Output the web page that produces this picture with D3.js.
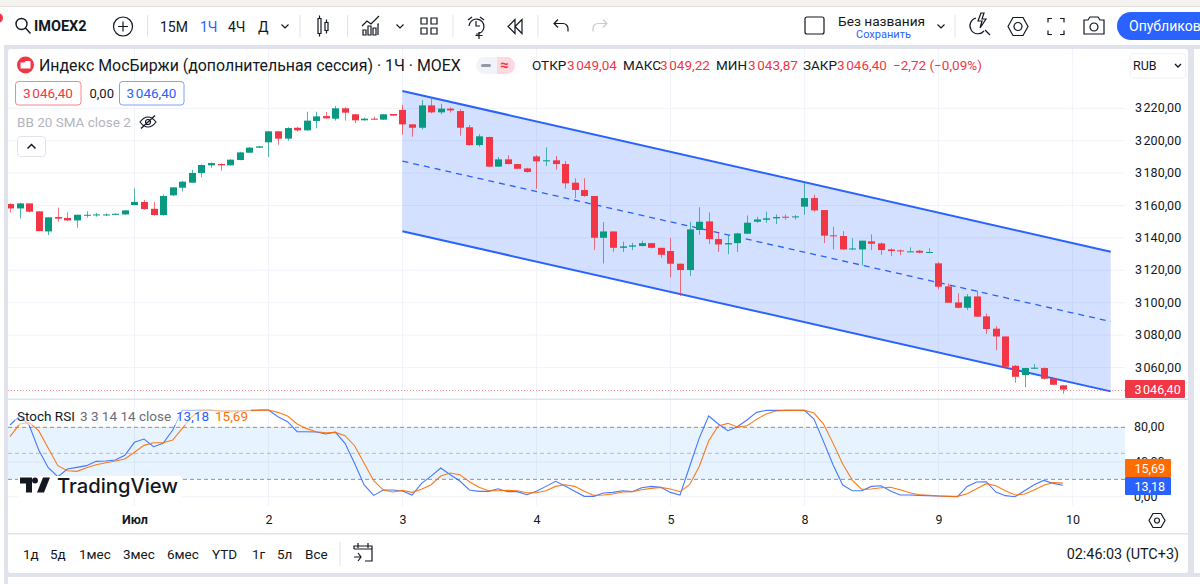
<!DOCTYPE html>
<html>
<head>
<meta charset="utf-8">
<script src="https://cdn.jsdelivr.net/npm/d3@7"></script>
<style>
  html, body { margin: 0; padding: 0; background: #fff; overflow: hidden; }
  svg { display: block; font-family: Roboto, "Noto Sans", sans-serif; }
</style>
</head>
<body>
<div id="chart"></div>
<script>
// Hourly candles, index 0 is the first visible bar
const opens = [3160.9,3158.2,3161.3,3156.4,3144.0,3152.9,3152.3,3150.8,3153.9,3154.1,3154.1,3154.5,3154.5,3160.3,3162.2,3158.0,3154.1,3166.3,3171.0,3174.1,3180.1,3184.8,3185.6,3184.8,3188.1,3192.6,3195.7,3199.0,3205.8,3201.3,3208.0,3206.4,3212.2,3215.2,3213.6,3220.0,3216.3,3212.6,3213.6,3213.0,3216.5,3219.0,3210.1,3208.0,3221.8,3217.5,3219.8,3218.3,3208.3,3197.3,3202.3,3184.0,3188.5,3185.6,3182.9,3190.3,3187.5,3187.9,3185.6,3174.1,3169.6,3165.9,3140.1,3144.0,3133.9,3134.6,3135.0,3136.8,3133.9,3131.9,3124.1,3120.2,3144.9,3150.2,3139.3,3136.0,3136.8,3142.6,3150.0,3151.2,3152.1,3153.1,3152.7,3159.3,3164.6,3157.2,3141.6,3141.2,3132.9,3132.9,3137.9,3136.6,3132.9,3132.3,3131.3,3132.1,3130.9,3124.3,3110.1,3100.2,3096.9,3103.9,3091.6,3084.0,3079.2,3061.1,3055.4,3059.3,3059.7,3053.3,3049.04];
const highs = [3161.3,3161.7,3161.3,3156.4,3152.7,3158.7,3155.8,3154.3,3156.4,3155.4,3155.2,3155.2,3157.2,3170.6,3163.4,3162.2,3166.9,3171.2,3175.3,3181.9,3185.4,3186.6,3186.0,3188.5,3193.2,3196.1,3196.7,3206.0,3205.8,3208.3,3208.7,3217.9,3217.9,3217.7,3221.4,3220.6,3216.5,3214.2,3214.8,3216.5,3216.5,3222.2,3210.1,3225.1,3226.2,3222.7,3220.6,3219.4,3209.7,3204.1,3202.5,3189.9,3191.0,3185.8,3183.3,3191.2,3195.9,3190.6,3187.5,3176.8,3176.8,3165.9,3149.8,3144.0,3137.7,3137.0,3138.3,3136.8,3133.9,3139.9,3124.1,3150.0,3158.9,3155.8,3143.4,3141.4,3143.2,3153.9,3153.1,3156.2,3154.5,3154.5,3154.1,3174.1,3166.7,3157.2,3146.9,3144.2,3139.9,3138.3,3142.2,3137.2,3133.5,3132.9,3134.2,3132.6,3133.6,3125.1,3112.0,3105.8,3105.4,3107.4,3093.4,3085.6,3079.2,3061.5,3059.7,3062.2,3060.1,3053.7,3049.22];
const lows = [3155.6,3152.1,3155.8,3144.2,3141.8,3150.0,3150.6,3146.3,3152.5,3153.1,3153.5,3154.1,3154.3,3160.1,3157.4,3153.9,3153.9,3165.9,3168.7,3173.9,3177.4,3183.3,3181.5,3184.6,3187.9,3192.4,3195.5,3190.1,3197.5,3200.0,3205.6,3206.2,3207.6,3213.6,3212.4,3212.4,3210.9,3212.4,3212.8,3212.8,3215.3,3203.7,3202.5,3207.0,3216.9,3216.3,3217.3,3203.1,3197.1,3196.3,3183.6,3183.8,3185.4,3182.5,3180.3,3170.4,3184.4,3182.1,3170.4,3164.6,3165.4,3132.5,3124.3,3131.5,3131.3,3132.5,3134.8,3133.5,3127.8,3115.6,3104.1,3116.5,3142.0,3136.2,3131.3,3130.0,3131.3,3142.4,3149.4,3149.4,3148.6,3151.2,3151.4,3154.3,3156.2,3136.8,3132.9,3132.5,3132.5,3123.0,3132.5,3129.6,3128.8,3129.4,3131.3,3130.5,3130.9,3108.3,3100.0,3096.5,3095.5,3091.2,3080.7,3070.8,3060.1,3050.6,3047.8,3059.3,3052.7,3049.2,3043.87];
const closes = [3158.2,3161.3,3156.2,3144.2,3152.7,3151.9,3150.8,3154.3,3154.3,3154.5,3154.5,3154.9,3157.0,3162.2,3157.8,3154.1,3165.9,3171.2,3174.7,3180.1,3185.0,3186.2,3184.8,3188.3,3192.8,3195.7,3196.5,3205.8,3201.3,3207.8,3206.4,3212.4,3215.0,3213.8,3220.0,3217.3,3212.6,3213.6,3213.0,3216.3,3215.5,3210.1,3208.0,3221.8,3217.5,3219.8,3218.7,3208.0,3197.3,3202.7,3184.0,3188.5,3185.6,3182.7,3180.7,3187.3,3187.9,3185.6,3173.7,3169.6,3165.9,3140.1,3144.0,3133.9,3134.8,3135.4,3136.8,3133.9,3129.6,3124.1,3120.2,3145.3,3150.0,3139.3,3136.0,3136.8,3142.8,3149.4,3151.4,3152.1,3152.9,3152.7,3153.3,3164.6,3157.0,3141.4,3141.2,3132.9,3133.5,3138.3,3136.4,3132.5,3131.9,3131.7,3131.7,3130.9,3131.3,3109.9,3100.0,3096.9,3103.9,3091.4,3083.8,3079.2,3060.5,3054.3,3059.7,3059.9,3053.1,3049.4,3046.40];

// Stoch RSI, same bars
const stochK = [82.7,93.1,82.7,53.8,33.5,23.1,31.9,33.8,35.8,40.8,41.2,42.3,47.7,62.7,66.5,57.7,61.5,76.9,99.6,99.6,100,99.6,98.8,98.8,98.8,99.6,100,100,92.3,86.5,75,75,74.6,72.3,74.6,61.5,38.5,13.5,1.5,7.7,7.7,6.5,1.9,15.4,23.8,33.1,25.4,18.1,7.7,6.2,6.2,9.2,5.8,5.8,2.3,6.2,11.9,17.7,12.3,6.2,0.4,0.4,4.2,5,6.9,5.8,10.4,11.9,10.8,5,1.9,34.6,67.3,93.1,83.8,76.2,80.8,88.5,97.3,99.6,99.6,99.6,99.6,99.6,89.6,63.5,36.5,13.5,6.9,6.9,11.9,12.7,6.5,1.9,1.9,1.5,1.2,0.8,0.4,0,11.9,16.9,17.3,5.4,1.2,0,6.9,13.8,18.8,15.4,13.18];
const stochD = [69.2,83.8,85.4,76.2,55.8,35.8,30,29.2,33.5,36.9,39.2,41.2,43.5,51.2,59.2,62.3,62.3,65.4,78.8,92.3,99.6,100,99.2,98.8,98.8,99.2,99.6,100,97.3,93.1,83.8,78.5,75,73.8,74.2,70.4,58.8,38.5,18.5,7.7,5.4,7.3,5,8.5,13.8,23.8,27.3,25.4,17.3,10.8,6.9,6.9,7.3,6.9,4.6,4.6,6.9,11.9,13.8,11.9,6.2,1.5,1.9,3.1,5.4,5.8,8.1,9.6,10.8,8.8,5.8,13.8,34.6,64.6,81.5,84.6,80.4,81.9,89.2,95.4,98.8,99.6,99.6,99.6,96.5,83.8,61.5,37.7,19.2,8.5,8.8,10.4,10.8,8.1,4.6,2.3,1.5,0.8,0.4,0.4,3.5,9.2,15,12.7,6.9,1.9,3.1,7.7,13.1,16.2,15.69];

// Parallel channel: [bar index, price] anchors
const channelBars = [41, 115];
const channelUpper = [3230.7, 3131.5];
const channelMiddle = [3187.4, 3088.4];
const channelLower = [3144.1, 3045.3];

const lastClose = 3046.40;
const priceTicks = [3220, 3200, 3180, 3160, 3140, 3120, 3100, 3080, 3060];
const stochTicks = [80, 40, 0];
const stochLevels = [80, 50, 20];
const dayBars = [13, 27, 41, 55, 69, 83, 97, 111];
const dayLabels = ["Июл", "2", "3", "4", "5", "8", "9", "10"];
const rangeLabels = ["1д", "5д", "1мес", "3мес", "6мес", "YTD", "1г", "5л", "Все"];
const rangeX = [23, 50, 79, 123, 167, 212, 252, 277, 305];

const RED = "#f23645", GREEN = "#089981", BLUE = "#2962ff", ORANGE = "#ff6d00", INK = "#131722";

const ru = d3.formatLocale({ decimal: ",", thousands: "\u202f", grouping: [3], currency: ["", ""] });
const fmt = ru.format(",.2f");

const svg = d3.select("#chart").append("svg").attr("width", 1200).attr("height", 584);

// Scales
const x = d3.scaleLinear().domain([0, 115]).range([10, 1110.7]);
const y = d3.scaleLinear().domain([3040.6, 3256.6]).range([399, 49]);
const yStoch = d3.scaleLinear().domain([0, 100]).range([496.7, 410]);

const text = (g, s, px, py, size, fill, extra = {}) => {
  const t = g.append("text").attr("x", px).attr("y", py).attr("font-size", size).attr("fill", fill)
    .attr("dominant-baseline", "central").text(s);
  Object.entries(extra).forEach(([k, v]) => t.attr(k, v));
  return t;
};
const icon = (g, d, tx, ty, stroke = INK, w = 1.2) =>
  g.append("path").attr("d", d).attr("transform", `translate(${tx},${ty})`)
    .attr("fill", "none").attr("stroke", stroke).attr("stroke-width", w);

// Page frame
svg.append("rect").attr("width", 1200).attr("height", 584).attr("fill", "#fff");
svg.append("rect").attr("x", 4).attr("y", 45).attr("width", 1196).attr("height", 539).attr("fill", "#e0e3eb");
svg.append("rect").attr("x", 0).attr("y", 0).attr("width", 1200).attr("height", 7).attr("fill", "#f5f3f0");
svg.append("rect").attr("x", 0).attr("y", 6).attr("width", 1200).attr("height", 1).attr("fill", "#e4dfda");
svg.append("rect").attr("x", 0).attr("y", 7).attr("width", 1200).attr("height", 38).attr("fill", "#fff");
svg.append("circle").attr("cx", -2).attr("cy", 18).attr("r", 5).attr("fill", RED);
svg.append("rect").attr("x", 8).attr("y", 49).attr("width", 1180).attr("height", 524).attr("rx", 3).attr("fill", "#fff");
svg.append("rect").attr("x", 1194).attr("y", 49).attr("width", 6).attr("height", 524).attr("fill", "#fff");
svg.append("rect").attr("x", 8).attr("y", 577).attr("width", 1192).attr("height", 7).attr("fill", "#fff");

// Grid
const grid = svg.append("g").attr("stroke", "#f0f3fa").attr("stroke-width", 1);
grid.selectAll(".v").data(dayBars).enter().append("line")
  .attr("x1", (d) => x(d)).attr("x2", (d) => x(d)).attr("y1", 49).attr("y2", 506);
grid.selectAll(".h").data(priceTicks).enter().append("line")
  .attr("x1", 8).attr("x2", 1125).attr("y1", (d) => y(d)).attr("y2", (d) => y(d));
grid.selectAll(".s").data(stochTicks).enter().append("line")
  .attr("x1", 8).attr("x2", 1125).attr("y1", (d) => yStoch(d)).attr("y2", (d) => yStoch(d));

// Clip for the marks
svg.append("clipPath").attr("id", "plot").append("rect").attr("x", 8).attr("y", 49).attr("width", 1117).attr("height", 457);
const plot = svg.append("g").attr("clip-path", "url(#plot)");

// Channel
const channelLine = (vals) => d3.line().x((d, i) => x(channelBars[i])).y((d) => y(d))(vals);
plot.append("path")
  .attr("d", d3.area().x((d, i) => x(channelBars[i])).y0((d, i) => y(channelLower[i])).y1((d) => y(d))(channelUpper))
  .attr("fill", BLUE).attr("fill-opacity", 0.2);
plot.append("path").attr("d", channelLine(channelMiddle)).attr("fill", "none")
  .attr("stroke", BLUE).attr("stroke-width", 1.3).attr("stroke-dasharray", "6,5");
[channelUpper, channelLower].forEach((vals) => {
  plot.append("path").attr("d", channelLine(vals)).attr("fill", "none").attr("stroke", BLUE).attr("stroke-width", 2);
});

// Candles
const candles = plot.selectAll(".candle").data(d3.range(opens.length)).enter().append("g").attr("class", "candle");
const colorOf = (i) => (closes[i] >= opens[i] ? GREEN : RED);
candles.append("line")
  .attr("x1", (i) => Math.round(x(i)) + 0.5).attr("x2", (i) => Math.round(x(i)) + 0.5)
  .attr("y1", (i) => y(highs[i])).attr("y2", (i) => y(lows[i]))
  .attr("stroke", colorOf).attr("stroke-opacity", 0.7);
candles.append("rect")
  .attr("x", (i) => Math.round(x(i)) - 3).attr("width", 7)
  .attr("y", (i) => y(Math.max(opens[i], closes[i])))
  .attr("height", (i) => Math.max(1, Math.abs(y(opens[i]) - y(closes[i]))))
  .attr("fill", colorOf);

// Last price line and pane separator
plot.append("line").attr("x1", 8).attr("x2", 1125)
  .attr("y1", Math.round(y(lastClose)) + 0.5).attr("y2", Math.round(y(lastClose)) + 0.5)
  .attr("stroke", RED).attr("stroke-opacity", 0.55).attr("stroke-dasharray", "1,2").attr("shape-rendering", "crispEdges");
svg.append("rect").attr("x", 8).attr("y", 398.5).attr("width", 1180).attr("height", 1.5).attr("fill", "#e0e3eb");

// Stoch RSI pane
plot.append("rect").attr("x", 8).attr("width", 1117)
  .attr("y", yStoch(stochLevels[0])).attr("height", yStoch(stochLevels[2]) - yStoch(stochLevels[0]))
  .attr("fill", "#2196f3").attr("fill-opacity", 0.11);
plot.selectAll(".level").data(stochLevels).enter().append("line")
  .attr("x1", 8).attr("x2", 1125).attr("y1", (d) => yStoch(d)).attr("y2", (d) => yStoch(d))
  .attr("stroke", "#787b86").attr("stroke-opacity", (d, i) => (i === 1 ? 0.45 : 0.8)).attr("stroke-dasharray", "4,3");
const stochLine = d3.line().x((d, i) => x(i)).y((d) => yStoch(d));
plot.append("path").attr("d", stochLine(stochK)).attr("fill", "none").attr("stroke", BLUE).attr("stroke-opacity", 0.85).attr("stroke-width", 1.1);
plot.append("path").attr("d", stochLine(stochD)).attr("fill", "none").attr("stroke", ORANGE).attr("stroke-opacity", 0.9).attr("stroke-width", 1.1);

// Price axes
const priceAxis = svg.append("g").attr("transform", "translate(1125,-0.5)")
  .call(d3.axisRight(y).tickValues(priceTicks).tickSize(0).tickPadding(10).tickFormat(fmt));
const stochAxis = svg.append("g").attr("transform", "translate(1125,-0.5)")
  .call(d3.axisRight(yStoch).tickValues(stochTicks).tickSize(0).tickPadding(9).tickFormat(fmt));
[priceAxis, stochAxis].forEach((a) => {
  a.select(".domain").remove();
  a.selectAll("text").attr("font-size", 12.5).attr("fill", INK).attr("font-family", "Roboto, sans-serif");
});

// Time axis
const timeAxis = svg.append("g").attr("transform", "translate(0,506)")
  .call(d3.axisBottom(x).tickValues(dayBars).tickSize(0).tickPadding(9).tickFormat((d, i) => dayLabels[i]));
timeAxis.select(".domain").remove();
timeAxis.selectAll("text").attr("font-size", 12.5).attr("fill", INK).attr("font-family", "Roboto, sans-serif")
  .attr("font-weight", (d, i) => (i === 0 ? 700 : 400));
svg.append("rect").attr("x", 8).attr("y", 533).attr("width", 1180).attr("height", 1.5).attr("fill", "#e0e3eb");

// Value tags
const tag = (val, y0, h, w, fill) => {
  svg.append("rect").attr("x", 1125).attr("y", y0).attr("width", w).attr("height", h).attr("rx", 1).attr("fill", fill);
  text(svg, fmt(val), 1134.5, y0 + h / 2, 12.5, "#fff");
};
tag(lastClose, 380, 18, 60, RED);
tag(stochD[stochD.length - 1], 459, 18, 46, ORANGE);
tag(stochK[stochK.length - 1], 477, 18, 46, BLUE);

// Stoch legend
svg.append("rect").attr("x", 15).attr("y", 408).attr("width", 236).attr("height", 17).attr("fill", "#fff").attr("fill-opacity", 0.55);
text(svg, "Stoch RSI", 17, 416, 13.5, INK);
text(svg, "3 3 14 14 close", 80, 416, 13.5, "#6a6d78");
text(svg, "13,18", 176, 416, 13.5, BLUE);
text(svg, "15,69", 215, 416, 13.5, ORANGE);

// TradingView logo
svg.append("rect").attr("x", 18).attr("y", 476).attr("width", 164).attr("height", 22).attr("rx", 3).attr("fill", "#fff");
svg.append("path").attr("d", "M20 477.5h12v15h-6v-9h-6z M35 483.5a3 3 0 1 0 0-6a3 3 0 0 0 0 6z M43 477.5h7l-6 15h-7z").attr("fill", INK);
text(svg, "TradingView", 57, 485.5, 20.2, INK, { "font-weight": 500, "font-family": "Inter, Roboto, sans-serif" });

// Chart header
const head = svg.append("g");
head.append("circle").attr("cx", 25.5).attr("cy", 65).attr("r", 8.5).attr("fill", RED);
head.append("path").attr("d", "M20.5 62.5h4l1-1.5h5v7.5h-10z").attr("fill", "#fff");
text(head, "Индекс МосБиржи (дополнительная сессия) · 1Ч · MOEX", 39, 65, 15.9, INK);
head.append("rect").attr("x", 476).attr("y", 57).attr("width", 39).attr("height", 17).attr("rx", 8.5).attr("fill", "#f0f3fa");
head.append("path").attr("d", "M497 57h9.5a8.5 8.5 0 0 1 0 17h-9.5z").attr("fill", "#fbd9de");
head.append("rect").attr("x", 481).attr("y", 64).attr("width", 10).attr("height", 3).attr("rx", 1.5).attr("fill", "#9598a1");
text(head, "≈", 500, 65, 15, RED, { "font-weight": 700 });
[["ОТКР", 532, "3 049,04", 567], ["МАКС", 623, "3 049,22", 660], ["МИН", 716, "3 043,87", 748], ["ЗАКР", 803, "3 046,40", 837]].forEach((d) => {
  text(head, d[0], d[1], 65, 13.5, INK);
  text(head, d[2].replace(" ", "\u202f"), d[3], 65, 13.5, RED);
});
text(head, "−2,72 (−0,09%)", 893, 65, 13.5, RED);

head.append("rect").attr("x", 15.5).attr("y", 81.5).attr("width", 65.5).attr("height", 23.5).attr("rx", 3)
  .attr("fill", "#fff").attr("stroke", RED).attr("stroke-opacity", 0.6);
text(head, fmt(lastClose), 48, 93, 13.5, RED, { "text-anchor": "middle" });
text(head, "0,00", 89.5, 93, 13, INK);
head.append("rect").attr("x", 119.5).attr("y", 81.5).attr("width", 64.5).attr("height", 23.5).attr("rx", 3)
  .attr("fill", "#fff").attr("stroke", BLUE).attr("stroke-opacity", 0.6);
text(head, fmt(lastClose), 151.5, 93, 13.5, BLUE, { "text-anchor": "middle" });
text(head, "BB 20 SMA close 2", 17, 122, 13.5, "#b2b5be");
icon(head, "M-8 0c3-4 5-5 8-5s5 1 8 5c-3 4-5 5-8 5s-5-1-8-5z M-2.5 0a2.5 2.5 0 0 1 5 0a2.5 2.5 0 0 1-5 0z M-7 6.5L7-6.5", 148, 122);
head.append("rect").attr("x", 17.5).attr("y", 136.5).attr("width", 28).attr("height", 20).attr("rx", 3)
  .attr("fill", "#fff").attr("stroke", "#e0e3eb");
icon(head, "M-4 2l4-4l4 4", 31.5, 146.5, INK, 1.5);
head.append("rect").attr("x", 1130).attr("y", 53.5).attr("width", 55.5).attr("height", 24.5).attr("rx", 3)
  .attr("fill", "#fff").attr("stroke", "#f0f3fa");
text(head, "RUB", 1133, 65.5, 12.5, INK);
icon(head, "M-3-1.5l3 3l3-3", 1178, 65.5, INK, 1.4);

// Top toolbar
const bar = svg.append("g");
icon(bar, "M3 -1a5.5 5.5 0 1 1-11 0a5.5 5.5 0 1 1 11 0z M1.5 3l5 5.5", 24, 25, INK, 1.4);
text(bar, "IMOEX2", 34, 26, 14.5, INK, { "font-weight": 700 });
icon(bar, "M9.5 0a9.5 9.5 0 1 1-19 0a9.5 9.5 0 1 1 19 0z M-5 0h10 M0-5v10", 123, 26.5);
[["15М", 160, INK], ["1Ч", 200, BLUE], ["4Ч", 228, INK], ["Д", 258, INK]].forEach((d) => text(bar, d[0], d[1], 26.5, 14, d[2]));
icon(bar, "M-3.5-1.5l3.5 3.5l3.5-3.5", 285, 26);
[147.5, 300, 347.5, 453, 538, 955].forEach((sx) => {
  bar.append("line").attr("x1", sx).attr("x2", sx).attr("y1", 15).attr("y2", 37).attr("stroke", "#e0e3eb");
});
icon(bar, "M-5-8h3v15h-3z M-3.5-11v3 M-3.5 7v3 M2-4h3v8h-3z M3.5-7v3 M3.5 4v3", 323, 26.5);
icon(bar, "M-8 9V4h3v5z M-3 9V0h3v9z M2 9V2h3v7z M7 9V-2h1 M-9 0l5-5l4 3l8-8", 371, 26);
icon(bar, "M-3.5-1.5l3.5 3.5l3.5-3.5", 400, 26);
icon(bar, "M-8-9h6v6h-6z M2-9h6v6h-6z M-8 1h6v6h-6z M2 1h6v6h-6z", 429, 27);
icon(bar, "M-7 0a7.5 7.5 0 1 1 7 8 M0-5v5h4 M3 6v7 M-.5 9.5h7 M-8-6l4-3 M8-6l-4-3", 476, 26);
icon(bar, "M0-7l-7 7l7 7z M7-7l-7 7l7 7z", 515, 26.5);
icon(bar, "M-6-3h8a5 5 0 0 1 5 5v3 M-3-7l-4 4l4 4", 561, 26.5);
icon(bar, "M6-3h-8a5 5 0 0 0-5 5v3 M3-7l4 4l-4 4", 600, 26.5, "#c9cbd2");
bar.append("rect").attr("x", 805).attr("y", 17).attr("width", 19).attr("height", 17).attr("rx", 2).attr("fill", "none").attr("stroke", INK).attr("stroke-width", 1.2);
text(bar, "Без названия", 838, 21, 13.7, INK);
text(bar, "Сохранить", 856, 34, 11, BLUE);
icon(bar, "M-3.5-1.5l3.5 3.5l3.5-3.5", 941, 26);
icon(bar, "M-4-6a8 8 0 1 0 8 13 M5 6l5 5 M1-11l-3 8h4l-2 7l6-9h-4l2-6z", 980, 24);
icon(bar, "M-10 0l5-9h10l5 9l-5 9h-10z M4 0a4 4 0 1 1-8 0a4 4 0 1 1 8 0z", 1018, 26.5);
icon(bar, "M-8-4v-4h4 M4-8h4v4 M8 4v4h-4 M-4 8h-4v-4", 1056, 26.5);
icon(bar, "M-10-6h4l2-3h8l2 3h4v14h-20z M4 1a4 4 0 1 1-8 0a4 4 0 1 1 8 0z", 1094, 26);
bar.append("rect").attr("x", 1117).attr("y", 12).attr("width", 100).attr("height", 28).attr("rx", 14).attr("fill", BLUE);
text(bar, "Опубликов", 1129, 26, 14, "#fff");

// Bottom bar
const foot = svg.append("g");
rangeLabels.forEach((s, i) => text(foot, s, rangeX[i], 554, 13.5, INK));
foot.append("line").attr("x1", 340).attr("x2", 340).attr("y1", 542).attr("y2", 566).attr("stroke", "#e0e3eb");
icon(foot, "M-9-5V-8H9V7H2 M-9-5H9 M-5-11v5 M5-11v5 M-9 3h7 M-5-1l3 4l-3 4", 363, 554);
text(foot, "02:46:03 (UTC+3)", 1179, 554, 14.4, INK, { "text-anchor": "end" });

// Axis settings gear
icon(svg, "M-8 0l4-7h8l4 7l-4 7h-8z M2.5 0a2.5 2.5 0 1 1-5 0a2.5 2.5 0 1 1 5 0z", 1157, 520.5);
</script>
</body>
</html>
